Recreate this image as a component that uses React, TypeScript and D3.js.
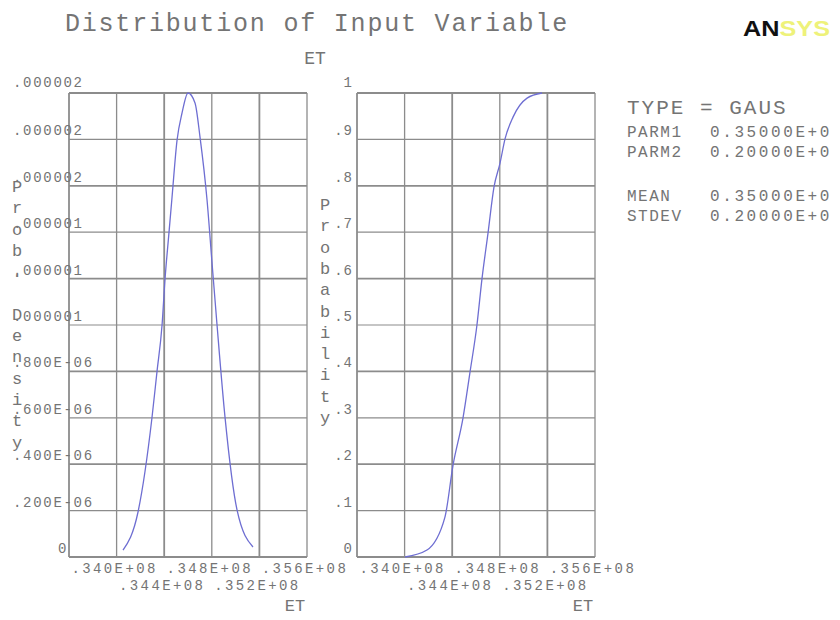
import React from 'react';
import { scaleLinear, line, curveMonotoneX } from 'd3';

// ET grid (x axis), the first line has no label
const etTicks = [33.6e6, 34.0e6, 34.4e6, 34.8e6, 35.2e6, 35.6e6];
const etTickLabels = ['', '.340E+08', '.344E+08', '.348E+08', '.352E+08', '.356E+08'];

const densityTicks = [0, 0.2e-6, 0.4e-6, 0.6e-6, 0.8e-6, 1.0e-6, 1.2e-6, 1.4e-6, 1.6e-6, 1.8e-6, 2.0e-6];
const densityTickLabels = ['0', '.200E-06', '.400E-06', '.600E-06', '.800E-06', '.000001', '.000001', '.000001', '.000002', '.000002', '.000002'];

const probTicks = [0, 0.1, 0.2, 0.3, 0.4, 0.5, 0.6, 0.7, 0.8, 0.9, 1];
const probTickLabels = ['0', '.1', '.2', '.3', '.4', '.5', '.6', '.7', '.8', '.9', '1'];

// density curve
const densityET = [34.054e6, 34.18e6, 34.297e6, 34.339e6, 34.382e6, 34.407e6, 34.44e6, 34.466e6, 34.508e6, 34.55e6, 34.6e6, 34.659e6, 34.701e6, 34.76e6, 34.802e6, 34.844e6, 34.911e6, 35.012e6, 35.146e6];
const densityValues = [0.03e-6, 0.194e-6, 0.599e-6, 0.797e-6, 1.0e-6, 1.198e-6, 1.397e-6, 1.552e-6, 1.797e-6, 1.914e-6, 2.0e-6, 1.957e-6, 1.81e-6, 1.539e-6, 1.267e-6, 1.0e-6, 0.603e-6, 0.203e-6, 0.043e-6];

// cumulative probability curve
const cdfET = [34.003e6, 34.188e6, 34.339e6, 34.407e6, 34.491e6, 34.55e6, 34.608e6, 34.65e6, 34.701e6, 34.751e6, 34.802e6, 34.844e6, 34.911e6, 35.029e6, 35.155e6];
const cdfValues = [0, 0.015, 0.086, 0.198, 0.3, 0.399, 0.5, 0.599, 0.698, 0.797, 0.849, 0.901, 0.948, 0.989, 1.0];

const legendRows = [
  { name: 'PARM1', value: '0.35000E+0' },
  { name: 'PARM2', value: '0.20000E+0' },
  { name: 'MEAN', value: '0.35000E+0' },
  { name: 'STDEV', value: '0.20000E+0' },
];

const mono = '"Liberation Mono", "DejaVu Sans Mono", monospace';
const textColor = '#747474';
const gridColor = '#8c8c8c';
const curveColor = '#6e6ed2';

const top = 93, bottom = 557;

const Panel = ({ left, yTicks, yLabels, yDomain, xs, ys, yTitle, titleX, titleY0, labelSide }) => {
  const right = left + 238;
  const x = scaleLinear().domain([etTicks[0], etTicks[etTicks.length - 1]]).range([left, right]);
  const y = scaleLinear().domain(yDomain).range([bottom, top]);
  const path = line<number>().curve(curveMonotoneX).x((d, i) => x(xs[i])).y((d, i) => y(ys[i]))(ys);

  return (
    <g>
      {yTicks.map((t, i) => (
        <line key={'h' + i} x1={left} x2={right} y1={y(t)} y2={y(t)} stroke={gridColor} strokeWidth={i % 2 === 0 ? 1.8 : 1.2} />
      ))}
      {etTicks.map((t, i) => (
        <line key={'v' + i} x1={x(t)} x2={x(t)} y1={top} y2={bottom} stroke={gridColor} strokeWidth={i % 2 === 0 ? 1.8 : 1.3} />
      ))}
      <path d={path || ''} fill="none" stroke={curveColor} strokeWidth={1.3} />

      {yTicks.map((t, i) =>
        labelSide === 'left' ? (
          <text key={'yl' + i} x={i === 0 ? 58 : 13} y={y(t) - (i === yTicks.length - 1 ? 6 : 4)}
            fontFamily={mono} fontSize={14} letterSpacing={1.7} fill={textColor}>{yLabels[i]}</text>
        ) : (
          <text key={'yl' + i} x={left - 4} y={y(t) - (i === yTicks.length - 1 ? 6 : 4)} textAnchor="end"
            fontFamily={mono} fontSize={14} letterSpacing={1} fill={textColor}>{yLabels[i]}</text>
        )
      )}

      {etTicks.map((t, i) => (
        <text key={'xl' + i} x={x(t) - 2} y={i % 2 === 1 ? 573 : 590} textAnchor="middle"
          fontFamily={mono} fontSize={14} letterSpacing={2.4} fill={textColor}>{etTickLabels[i]}</text>
      ))}
      <text x={right - 12} y={611} textAnchor="middle" fontFamily={mono} fontSize={17} fill={textColor}>ET</text>

      {yTitle.split('').map((c, i) => (
        <text key={'t' + i} x={titleX} y={titleY0 + i * 21.3} textAnchor="middle"
          fontFamily={mono} fontSize={17} fill={textColor}>{c}</text>
      ))}
    </g>
  );
};

export default function App() {
  return (
    <svg width={840} height={620} style={{ position: 'absolute', left: 0, top: 0, background: '#fff' }}>
      <rect width={840} height={620} fill="#fff" />
      <text x={317} y={31} textAnchor="middle" fontFamily={mono} fontSize={25} letterSpacing={1.8} fill={textColor}>
        Distribution of Input Variable
      </text>
      <text x={315} y={64} textAnchor="middle" fontFamily={mono} fontSize={18} fill={textColor}>ET</text>

      <text x={743} y={36} fontFamily='"Liberation Sans", Arial, sans-serif' fontWeight="bold" fontSize={22}
        textLength={87} lengthAdjust="spacingAndGlyphs">
        <tspan fill="#111">AN</tspan><tspan fill="#eef27a">SYS</tspan>
      </text>

      <Panel left={69} yTicks={densityTicks} yLabels={densityTickLabels} yDomain={[0, 2e-6]}
        xs={densityET} ys={densityValues} yTitle="Prob. Density" titleX={17} titleY0={192} labelSide="left" />
      <Panel left={357} yTicks={probTicks} yLabels={probTickLabels} yDomain={[0, 1]}
        xs={cdfET} ys={cdfValues} yTitle="Probability" titleX={325} titleY0={210} labelSide="right" />

      <text x={627} y={114} fontFamily={mono} fontSize={21} letterSpacing={2} fill={textColor}>TYPE = GAUS</text>
      {legendRows.map((r, i) => {
        const yy = [137, 157, 201, 221][i];
        return (
          <g key={r.name}>
            <text x={627} y={yy} fontFamily={mono} fontSize={16} letterSpacing={1.5} fill={textColor}>{r.name}</text>
            <text x={710} y={yy} fontFamily={mono} fontSize={16} letterSpacing={2.6} fill={textColor}>{r.value}</text>
          </g>
        );
      })}
    </svg>
  );
}
